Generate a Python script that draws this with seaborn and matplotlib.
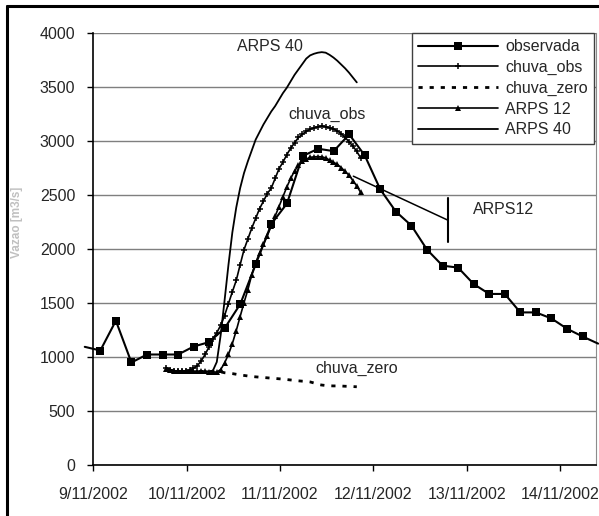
import pandas as pd
import matplotlib
matplotlib.use('Agg')
import matplotlib.pyplot as plt
import seaborn as sns
from matplotlib.lines import Line2D

# observed discharge (every 4 h)
obs_vals = [1090, 1056, 1332, 945, 1019, 1019, 1019, 1093, 1134, 1264, 1487,
            1858, 2229, 2418, 2857, 2925, 2903, 3058, 2863, 2548, 2343, 2213,
            1991, 1842, 1824, 1672, 1580, 1580, 1409, 1409, 1353, 1258, 1186, 1120]

# model runs (hourly)
chuva_obs_vals = [895, 878, 868, 866, 866, 868, 875, 890, 915, 960, 1020, 1090,
                  1165, 1220, 1290, 1380, 1490, 1600, 1705, 1850, 1990, 2090,
                  2190, 2280, 2370, 2440, 2510, 2560, 2650, 2740, 2800, 2870,
                  2930, 2980, 3030, 3060, 3085, 3105, 3120, 3130, 3135, 3130,
                  3120, 3110, 3090, 3065, 3030, 2990, 2950, 2900, 2840]
chuva_zero_vals = [890, 875, 868, 862, 862, 862, 862, 862, 862, 862, 862, 862,
                   862, 862, 858, 850, 846, 842, 836, 830, 825, 820, 815, 812,
                   809, 806, 803, 800, 797, 794, 791, 787, 783, 779, 775, 772,
                   770, 765, 755, 742, 736, 732, 729, 728, 728, 727, 725, 724,
                   722, 720]
arps12_vals = [885, 872, 865, 862, 862, 862, 862, 862, 862, 862, 862, 860,
               858, 855, 880, 940, 1020, 1120, 1240, 1370, 1500, 1620, 1760,
               1870, 1960, 2040, 2120, 2210, 2300, 2390, 2480, 2570, 2650,
               2720, 2770, 2810, 2830, 2845, 2850, 2852, 2850, 2840, 2820,
               2800, 2780, 2750, 2715, 2680, 2630, 2580, 2520]
arps40_vals = [890, 875, 868, 865, 863, 862, 862, 862, 862, 862, 862, 862,
               870, 950, 1200, 1520, 1850, 2150, 2380, 2560, 2700, 2810, 2910,
               3010, 3080, 3150, 3210, 3270, 3320, 3380, 3440, 3490, 3550,
               3610, 3660, 3710, 3760, 3790, 3805, 3815, 3820, 3815, 3795,
               3770, 3740, 3705, 3670, 3630, 3585, 3540]

day_labels = ['9/11/2002', '10/11/2002', '11/11/2002', '12/11/2002',
              '13/11/2002', '14/11/2002']

base = pd.Timestamp('2002-11-09')
obs_t = pd.date_range(base + pd.Timedelta(hours=1.8 - 4), periods=len(obs_vals), freq='4h')
mod_start = base + pd.Timedelta(hours=18.75)
def mod_t(vals):
    return pd.date_range(mod_start, periods=len(vals), freq='h')
def day(d):
    return base + pd.Timedelta(days=d)

sns.set_style('white')
plt.rcParams['font.family'] = ['Liberation Sans', 'DejaVu Sans']

fig = plt.figure(figsize=(5.99, 5.16), dpi=100)
ax = fig.add_axes([0.1558, 0.0998, 0.8392, 0.8368])

# first/last obs points only carry the line to the chart edges
sns.lineplot(x=obs_t, y=obs_vals, ax=ax, color='black', lw=1.5, marker='s',
             markersize=5.5, markeredgewidth=0, markevery=list(range(1, len(obs_vals) - 1)),
             label='observada', clip_on=False, zorder=4)
sns.lineplot(x=mod_t(chuva_obs_vals), y=chuva_obs_vals, ax=ax, color='black', lw=1.2,
             marker='+', markersize=5, markeredgewidth=1.1, markeredgecolor='black',
             label='chuva_obs')
sns.lineplot(x=mod_t(chuva_zero_vals), y=chuva_zero_vals, ax=ax, color='black', lw=2,
             linestyle=(0, (1.5, 2.5)), label='chuva_zero')
sns.lineplot(x=mod_t(arps12_vals), y=arps12_vals, ax=ax, color='black', lw=1.2,
             marker='^', markersize=4, markeredgewidth=0, label='ARPS 12')
sns.lineplot(x=mod_t(arps40_vals), y=arps40_vals, ax=ax, color='black', lw=1.3,
             label='ARPS 40')

ax.set_ylim(0, 4000)
ax.set_xlim(day(0), day(5.386))
ax.set_yticks(range(0, 4001, 500))
ax.set_xticks(pd.date_range(base, periods=6, freq='D'))
ax.set_xticklabels(day_labels)
ax.tick_params(axis='both', direction='out', length=4, width=1, color='black',
               labelsize=11.5, bottom=True, left=True)
ax.tick_params(axis='y', pad=9)
ax.tick_params(axis='x', pad=12)
ax.set_xlabel('')
ax.set_ylabel('')
ax.yaxis.grid(True, color='#7f7f7f', lw=1)
ax.xaxis.grid(False)
ax.spines['top'].set_visible(False)
ax.spines['right'].set_color('#8c8c8c')
ax.spines['left'].set_color('black')
ax.spines['bottom'].set_color('black')
for s in ['left', 'bottom']:
    ax.spines[s].set_linewidth(1.2)

# annotations
ax.text(day(1.893), 3875, 'ARPS 40', ha='center', va='center', fontsize=11.5)
ax.text(day(2.504), 3244, 'chuva_obs', ha='center', va='center', fontsize=11.5)
ax.text(day(2.825), 891, 'chuva_zero', ha='center', va='center', fontsize=11.5)
ax.text(day(4.4), 2362, 'ARPS12', ha='center', va='center', fontsize=11.5)
ax.plot([day(2.786), day(3.8)], [2671, 2263], color='black', lw=1.1)
ax.plot([day(3.8), day(3.8)], [2473, 2065], color='black', lw=1.5)

leg = ax.legend(loc='upper right', bbox_to_anchor=(0.997, 1.0), borderaxespad=0,
                fontsize=11.5, frameon=True, fancybox=False, framealpha=1,
                edgecolor='#404040', handlelength=5.0, handletextpad=0.45,
                labelspacing=0.36, borderpad=0.4, numpoints=1)
leg.get_frame().set_linewidth(1)
leg.set_zorder(6)

fig.text(17 / 599, 1 - 222 / 516, 'Vazao [m3/s]', rotation=90, ha='center',
         va='center', fontsize=8.5, color='#c0c0c0', fontweight='bold')

# outer chart border
fig.add_artist(Line2D([7.3 / 599, 7.3 / 599], [0, 1 - 5.7 / 516], color='black', lw=2.2))
fig.add_artist(Line2D([7.3 / 599, 1], [1 - 5.7 / 516, 1 - 5.7 / 516], color='black', lw=2.2))

fig.savefig('out.png', dpi=100)
